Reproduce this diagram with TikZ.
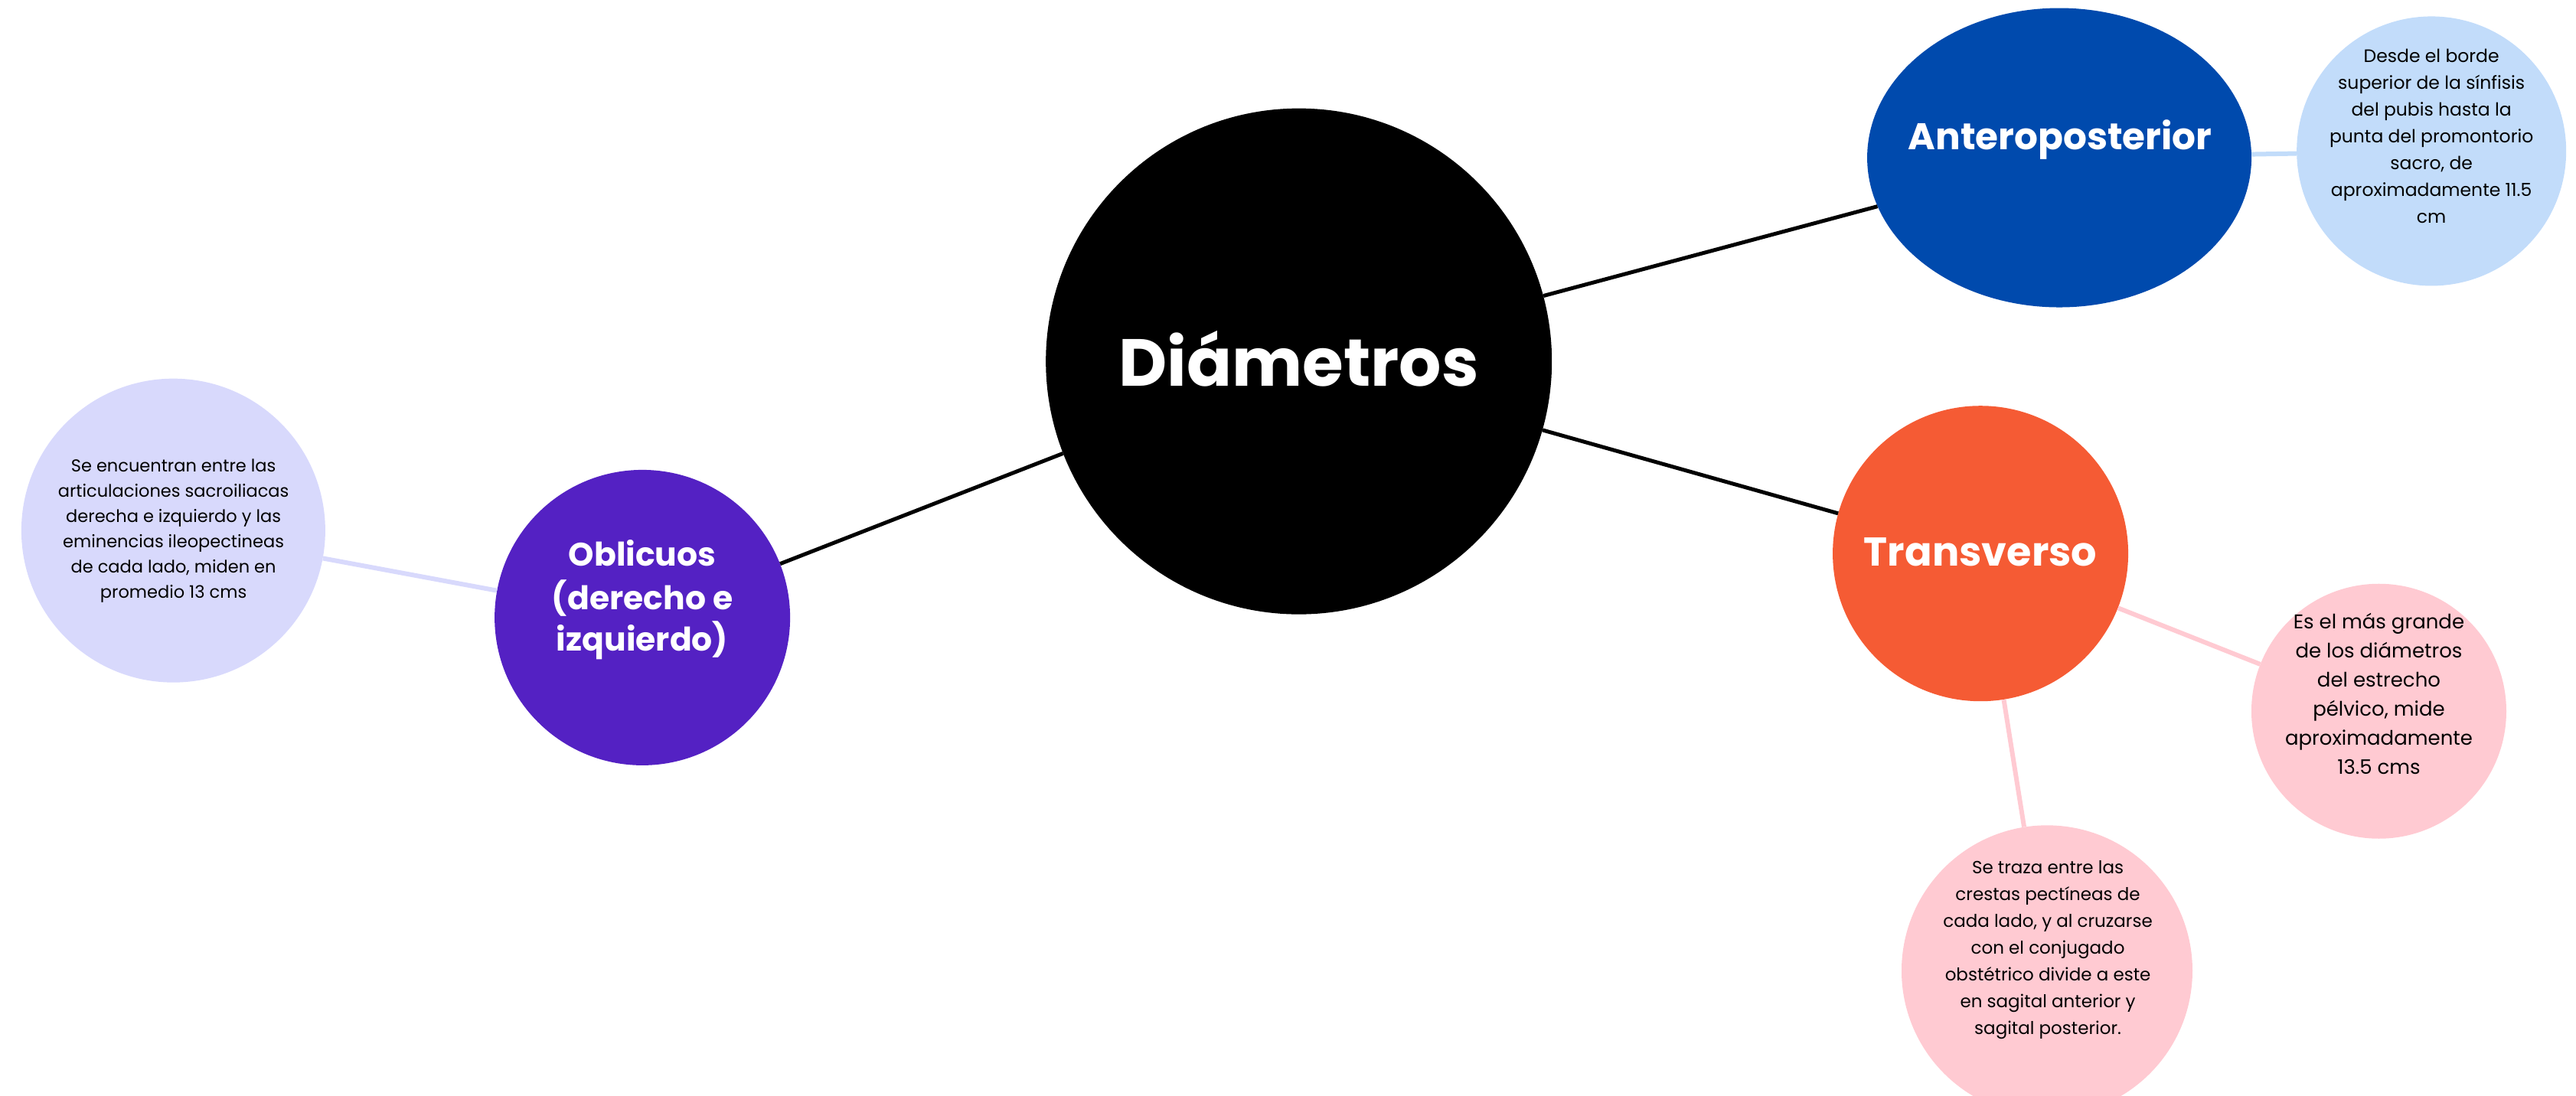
\documentclass[tikz,border=0pt]{standalone}
\usepackage{fontspec}
\setmainfont{Poppins}
\usetikzlibrary{shapes.geometric}
\definecolor{cBlue}{HTML}{004AAD}
\definecolor{cLightBlue}{HTML}{C2DCFA}
\definecolor{cOrange}{HTML}{F55B34}
\definecolor{cPink}{HTML}{FFCAD2}
\definecolor{cPurple}{HTML}{5421C3}
\definecolor{cLavender}{HTML}{D8D9FC}
\begin{document}
\begin{tikzpicture}[x=2.146pt,y=-2.146pt,
  bubble/.style={circle,inner sep=0pt,draw=none},
  oval/.style={ellipse,inner sep=0pt,draw=none},
  title/.style={text=white,font=\bfseries,inner sep=0pt,anchor=base},
  small/.style={text=black,align=center,inner sep=0pt,anchor=center},
  mainlink/.style={line width=5pt,draw=black},
  sublink/.style={line width=6pt}]
\useasboundingbox (0,0) rectangle (1568,667);
% bubbles
\node[bubble,fill=black,minimum size=661pt] (cen) at (790.6,220) {};
\node[oval,fill=cBlue,minimum width=502pt,minimum height=391pt] (ant) at (1253.5,96) {};
\node[bubble,fill=cLightBlue,minimum size=352pt] (antd) at (1480,92) {};
\node[bubble,fill=cOrange,minimum size=386pt] (tra) at (1205.5,337) {};
\node[bubble,fill=cPink,minimum size=333pt] (trad1) at (1448,433) {};
\node[bubble,fill=cPink,minimum size=380pt] (trad2) at (1246,591) {};
\node[bubble,fill=cPurple,minimum size=386pt] (obl) at (391,376) {};
\node[bubble,fill=cLavender,minimum size=397pt] (obld) at (105.5,323) {};
% connectors
\draw[mainlink] (cen) -- (ant);
\draw[mainlink] (cen) -- (tra);
\draw[mainlink] (cen) -- (obl);
\draw[sublink,cLightBlue] (ant) -- (antd);
\draw[sublink,cPink] (tra) -- (trad1);
\draw[sublink,cPink] (tra) -- (trad2);
\draw[sublink,cLavender] (obl) -- (obld);
% titles
\node[title,font=\bfseries\fontsize{87}{100}\selectfont] (tcen) at (790.6,235) {Diámetros};
\node[title,font=\bfseries\fontsize{48.5}{60}\selectfont] (tant) at (1254,91) {Anteroposterior};
\node[title,font=\bfseries\fontsize{52.5}{60}\selectfont] (ttra) at (1205.5,344.5) {Transverso};
\node[title,font=\bfseries\fontsize{42.5}{55}\selectfont] (tobl1) at (391,344.8) {Oblicuos};
\node[title,font=\bfseries\fontsize{42.5}{55}\selectfont] (tobl2) at (391,371) {(derecho e};
\node[title,font=\bfseries\fontsize{42.5}{55}\selectfont] (tobl3) at (391,396.5) {izquierdo)};
% descriptions
\node[small,font=\fontsize{23.5}{35}\selectfont] (tantd) at (1480,82.7) {Desde el borde\\superior de la sínfisis\\del pubis hasta la\\punta del promontorio\\sacro, de\\aproximadamente 11.5\\cm};
\node[small,font=\fontsize{22.5}{33}\selectfont] (tobld) at (105.6,323) {Se encuentran entre las\\articulaciones sacroiliacas\\derecha e izquierdo y las\\eminencias ileopectineas\\de cada lado, miden en\\promedio 13 cms};
\node[small,font=\fontsize{26}{38}\selectfont] (ttrad1) at (1448,422.5) {Es el más grande\\de los diámetros\\del estrecho\\pélvico, mide\\aproximadamente\\13.5 cms};
\node[small,font=\fontsize{23}{35}\selectfont] (ttrad2) at (1246.5,578.5) {Se traza entre las\\crestas pectíneas de\\cada lado, y al cruzarse\\con el conjugado\\obstétrico divide a este\\en sagital anterior y\\sagital posterior.};
\end{tikzpicture}
\end{document}
